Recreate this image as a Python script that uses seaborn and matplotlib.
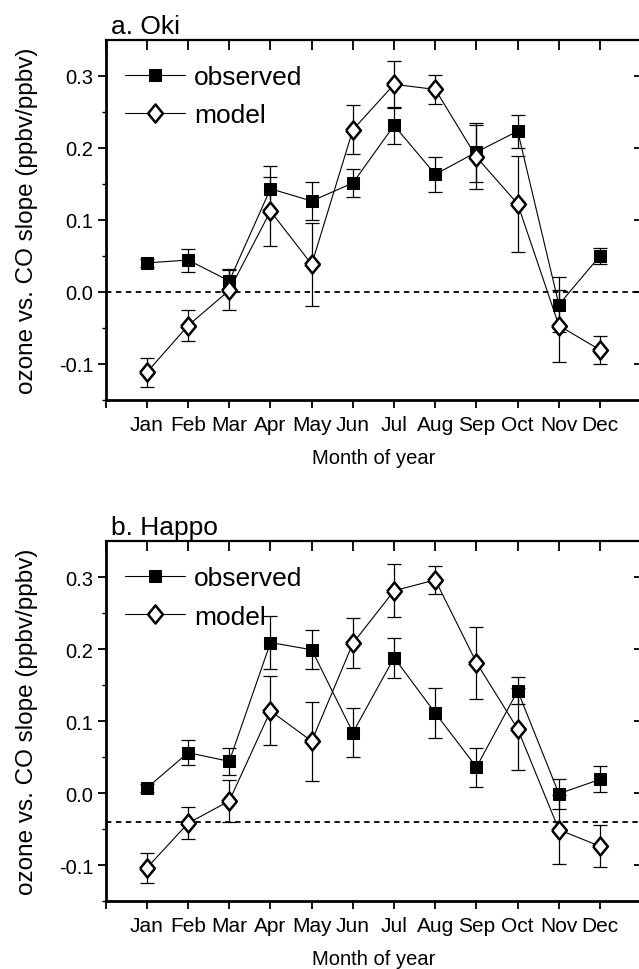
import numpy as np
import pandas as pd
import matplotlib
matplotlib.use("Agg")
import matplotlib.pyplot as plt
import seaborn as sns

# month axis
months = ['Jan', 'Feb', 'Mar', 'Apr', 'May', 'Jun', 'Jul', 'Aug', 'Sep', 'Oct', 'Nov', 'Dec']
month_idx = list(range(1, 13))

# a. Oki - slopes and error bar half-widths
oki_obs = [0.040, 0.044, 0.015, 0.143, 0.126, 0.151, 0.231, 0.163, 0.194, 0.223, -0.018, 0.050]
oki_obs_err = [0.006, 0.016, 0.016, 0.032, 0.027, 0.020, 0.026, 0.024, 0.041, 0.023, 0.038, 0.011]
oki_mod = [-0.112, -0.047, 0.002, 0.112, 0.038, 0.225, 0.288, 0.281, 0.187, 0.122, -0.047, -0.081]
oki_mod_err = [0.020, 0.022, 0.028, 0.048, 0.058, 0.034, 0.033, 0.020, 0.045, 0.067, 0.050, 0.020]
oki_ref = 0.0

# b. Happo
happo_obs = [0.007, 0.056, 0.044, 0.209, 0.199, 0.084, 0.188, 0.111, 0.036, 0.142, -0.001, 0.019]
happo_obs_err = [0.005, 0.017, 0.019, 0.037, 0.027, 0.034, 0.028, 0.035, 0.027, 0.019, 0.021, 0.018]
happo_mod = [-0.104, -0.042, -0.011, 0.114, 0.072, 0.208, 0.281, 0.296, 0.181, 0.089, -0.051, -0.074]
happo_mod_err = [0.021, 0.022, 0.029, 0.048, 0.055, 0.035, 0.037, 0.020, 0.050, 0.057, 0.048, 0.029]
happo_ref = -0.04

sns.set_style("ticks")
plt.rcParams['font.family'] = ['Liberation Sans Narrow', 'Liberation Sans', 'DejaVu Sans']
plt.rcParams['text.color'] = 'k'
plt.rcParams['axes.labelcolor'] = 'k'
plt.rcParams['xtick.color'] = 'k'
plt.rcParams['ytick.color'] = 'k'
plt.rcParams['axes.edgecolor'] = 'k'

# tall open diamond used for the model series
diamond = [(-0.82, 0), (0, 1), (0.82, 0), (0, -1), (-0.82, 0)]

fig = plt.figure(figsize=(6.39, 9.70), dpi=100)
ax_a = fig.add_axes([0.1654, 0.5869, 0.8382, 0.3711])
ax_b = fig.add_axes([0.1654, 0.0701, 0.8382, 0.3711])


def draw_panel(ax, title, obs, obs_err, mod, mod_err, ref):
    df = pd.DataFrame({'month': month_idx, 'observed': obs, 'model': mod})
    ax.errorbar(month_idx, obs, yerr=obs_err, fmt='none', ecolor='k',
                elinewidth=0.9, capsize=5, capthick=0.9, zorder=1.5)
    ax.errorbar(month_idx, mod, yerr=mod_err, fmt='none', ecolor='k',
                elinewidth=0.9, capsize=5, capthick=0.9, zorder=1.5)
    sns.lineplot(data=df, x='month', y='observed', ax=ax, color='k', lw=0.8,
                 marker='s', markersize=9, markerfacecolor='k', markeredgecolor='k',
                 label='observed', zorder=3)
    sns.lineplot(data=df, x='month', y='model', ax=ax, color='k', lw=0.8,
                 marker=diamond, markersize=13, markerfacecolor='white',
                 markeredgecolor='k', markeredgewidth=1.8, label='model', zorder=3)
    ax.axhline(ref, color='k', ls=(0, (3, 2.5)), lw=1.3, zorder=1)

    ax.set_xlim(0, 13)
    ax.set_ylim(-0.15, 0.35)
    ax.set_xticks(range(0, 14))
    ax.set_xticklabels([''] + months + [''], fontsize=15)
    ax.set_yticks([-0.1, 0.0, 0.1, 0.2, 0.3])
    ax.set_yticklabels(['-0.1', '0.0', '0.1', '0.2', '0.3'], fontsize=14.5)
    ax.set_yticks(np.arange(-0.15, 0.35, 0.05), minor=True)
    ax.tick_params(axis='both', which='major', direction='out', length=6, width=1.3,
                   pad=3)
    ax.tick_params(axis='x', which='major', pad=5)
    ax.tick_params(axis='y', which='minor', direction='out', length=3, width=1.0)
    ax.set_xlabel('Month of year', fontsize=14.5, labelpad=10)
    ax.set_ylabel('ozone vs. CO slope (ppbv/ppbv)', fontsize=17.5, labelpad=15)
    ax.set_title(title, loc='left', fontsize=19, pad=5, x=0.009)

    # inward ticks on the top and right sides
    top = ax.secondary_xaxis('top')
    top.set_xticks(range(0, 14))
    top.tick_params(direction='in', length=7, width=1.3, labeltop=False)
    right = ax.secondary_yaxis('right')
    right.set_yticks([-0.1, 0.0, 0.1, 0.2, 0.3])
    right.tick_params(direction='in', length=5, width=1.3, labelright=False)
    for s in right.spines.values():
        s.set_visible(False)

    for side in ['left', 'bottom']:
        ax.spines[side].set_linewidth(2.0)
    for s in top.spines.values():
        s.set_linewidth(1.6)
    ax.spines['top'].set_visible(False)
    ax.spines['right'].set_visible(False)

    ax.legend(loc='upper left', bbox_to_anchor=(0.026, 0.945), frameon=False,
              fontsize=19, handlelength=2.27, handletextpad=0.34,
              labelspacing=0.55, borderpad=0.2, borderaxespad=0)


draw_panel(ax_a, 'a. Oki', oki_obs, oki_obs_err, oki_mod, oki_mod_err, oki_ref)
draw_panel(ax_b, 'b. Happo', happo_obs, happo_obs_err, happo_mod, happo_mod_err, happo_ref)

fig.savefig('out.png', dpi=100)
